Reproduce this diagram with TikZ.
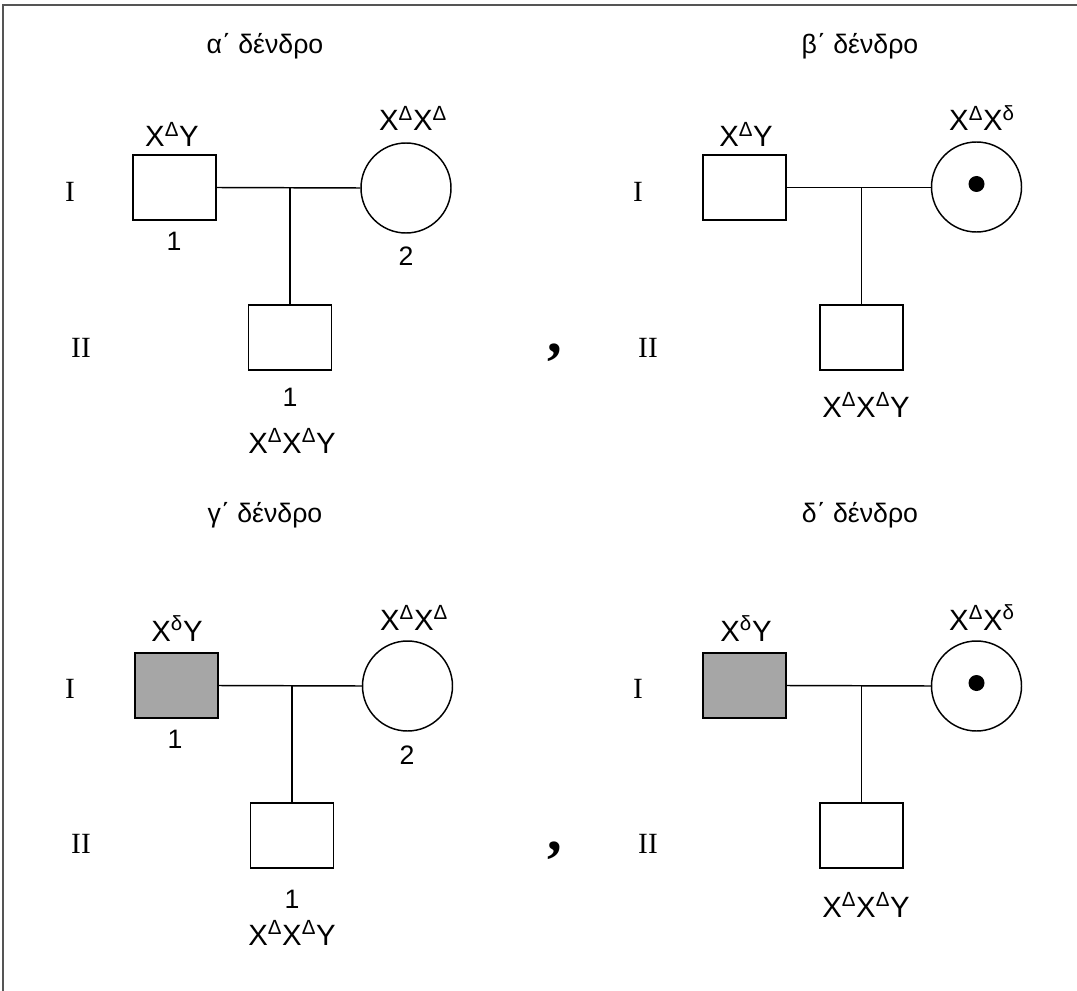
\documentclass[tikz,border=0pt]{standalone}
\usepackage{fontspec}
\setmainfont{Liberation Sans}
\newfontfamily\romanfont{Liberation Serif}
\definecolor{affected}{RGB}{166,166,166}
\definecolor{framegray}{RGB}{85,85,85}
\begin{document}
\begin{tikzpicture}[x=0.75pt,y=-0.75pt,
  male/.style={draw=black,line width=1.1pt,minimum width=62.5pt,minimum height=48.75pt,inner sep=0pt},
  female/.style={circle,draw=black,line width=1.1pt,minimum size=67.5pt,inner sep=0pt},
  sick/.style={fill=affected},
  carrierdot/.style={circle,fill=black,minimum size=12pt,inner sep=0pt},
  bond/.style={line width=1.1pt,draw=black},
  gtext/.style={font=\fontsize{22}{26}\selectfont,inner sep=0pt,anchor=base},
  numtext/.style={font=\fontsize{20}{24}\selectfont,inner sep=0pt,anchor=base},
  title/.style={font=\fontsize{20}{24}\selectfont,inner sep=0pt,anchor=base},
  gen/.style={font=\romanfont\fontsize{22}{26}\selectfont,inner sep=0pt,anchor=base},
  sep/.style={font=\romanfont\bfseries\fontsize{44}{44}\selectfont,inner sep=0pt,anchor=base},
]
\useasboundingbox (0,0) rectangle (1077,991);
% frame: top and left edges only
\draw[framegray,line width=1.5pt] (3,991) -- (3,5) -- (1077,5);

% ---------------- tree alpha ----------------
\node[title] (ta) at (265,54) {α΄ δένδρο};
\node[gen] (aI) at (70,202) {I};
\node[gen] (aII) at (81,357) {II};
\node[male] (af) at (174.5,187.5) {};
\node[female] (am) at (406,188) {};
\node[male] (ac) at (290,337.5) {};
\coordinate (amid) at (290,188);
\draw[bond] (af.east) -- (am.west);
\draw[bond] (amid) -- (ac.north);
\node[gtext] (afg) at (172,147) {X\textsuperscript{Δ}Y};
\node[gtext] (amg) at (413,131) {X\textsuperscript{Δ}X\textsuperscript{Δ}};
\node[numtext] (afn) at (174,250) {1};
\node[numtext] (amn) at (406,266) {2};
\node[numtext] (acn) at (290,406) {1};
\node[gtext] (acg) at (292,453) {X\textsuperscript{Δ}X\textsuperscript{Δ}Y};

% ---------------- tree beta ----------------
\node[title] (tb) at (860,54) {β΄ δένδρο};
\node[gen] (bI) at (638,202) {I};
\node[gen] (bII) at (648,357) {II};
\node[male] (bf) at (744.5,187.5) {};
\node[female] (bm) at (976.5,187) {};
\node[carrierdot] (bd) at (976.5,184) {};
\node[male] (bc) at (861.5,337.5) {};
\coordinate (bmid) at (861.5,188);
\draw[bond] (bf.east) -- (bf.east -| bm.west);
\draw[bond] (bmid) -- (bc.north);
\node[gtext] (bfg) at (746,147) {X\textsuperscript{Δ}Y};
\node[gtext] (bmg) at (982,131) {X\textsuperscript{Δ}X\textsuperscript{δ}};
\node[gtext] (bcg) at (866,417) {X\textsuperscript{Δ}X\textsuperscript{Δ}Y};
\node[sep] (c1) at (555,352) {,};

% ---------------- tree gamma ----------------
\node[title] (tc) at (265,522) {γ΄ δένδρο};
\node[gen] (cI) at (70,698) {I};
\node[gen] (cII) at (81,853) {II};
\node[male,sick] (cf) at (176.5,685.5) {};
\node[female] (cm) at (407.5,686) {};
\node[male] (cc) at (292,835.5) {};
\coordinate (cmid) at (292,686);
\draw[bond] (cf.east) -- (cm.west);
\draw[bond] (cmid) -- (cc.north);
\node[gtext] (cfg) at (177,641) {X\textsuperscript{δ}Y};
\node[gtext] (cmg) at (414,630) {X\textsuperscript{Δ}X\textsuperscript{Δ}};
\node[numtext] (cfn) at (175,748) {1};
\node[numtext] (cmn) at (407,764) {2};
\node[numtext] (ccn) at (292,908) {1};
\node[gtext] (ccg) at (292,945) {X\textsuperscript{Δ}X\textsuperscript{Δ}Y};

% ---------------- tree delta ----------------
\node[title] (td) at (860,522) {δ΄ δένδρο};
\node[gen] (dI) at (638,698) {I};
\node[gen] (dII) at (648,853) {II};
\node[male,sick] (df) at (744.5,685.5) {};
\node[female] (dm) at (976.5,686) {};
\node[carrierdot] (dd) at (976.5,683) {};
\node[male] (dc) at (861.5,835.5) {};
\coordinate (dmid) at (861.5,686);
\draw[bond] (df.east) -- (dm.west);
\draw[bond] (dmid) -- (dc.north);
\node[gtext] (dfg) at (746,641) {X\textsuperscript{δ}Y};
\node[gtext] (dmg) at (982,630) {X\textsuperscript{Δ}X\textsuperscript{δ}};
\node[gtext] (dcg) at (866,917) {X\textsuperscript{Δ}X\textsuperscript{Δ}Y};
\node[sep] (c2) at (555,850) {,};
\end{tikzpicture}
\end{document}
